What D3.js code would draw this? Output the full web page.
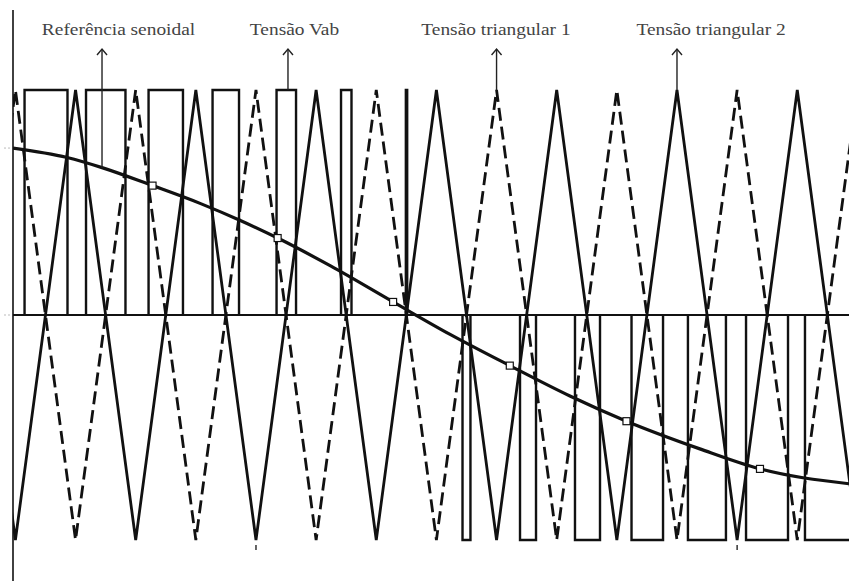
<!DOCTYPE html>
<html>
<head>
<meta charset="utf-8">
<script src="https://cdn.jsdelivr.net/npm/d3@7"></script>
<style>
  html, body { margin: 0; padding: 0; background: #fff; }
  svg { display: block; }
</style>
</head>
<body>
<script>
// x: time in carrier periods, y: normalised voltage (-1 .. 1)

// Carrier 1 (dashed) and carrier 2 (solid) triangle vertices
const carrier1Times  = [-0.5, 0, 0.5, 1, 1.5, 2, 2.5, 3, 3.5, 4, 4.5, 5, 5.5, 6, 6.5, 7, 7.5];
const carrier1Values = [-1, 1, -1, 1, -1, 1, -1, 1, -1, 1, -1, 1, -1, 1, -1, 1, -1];
const carrier2Times  = [-0.5, 0, 0.5, 1, 1.5, 2, 2.5, 3, 3.5, 4, 4.5, 5, 5.5, 6, 6.5, 7, 7.5];
const carrier2Values = [1, -1, 1, -1, 1, -1, 1, -1, 1, -1, 1, -1, 1, -1, 1, -1, 1];

// Sinusoidal reference samples
const refTimes  = [-0.02, 0.43, 0.72, 1.14, 1.54, 1.87, 2.18, 2.62, 3.14, 3.61, 4.11, 4.61, 5.08, 5.69, 6.19, 6.93];
const refValues = [0.742, 0.70, 0.655, 0.575, 0.495, 0.42, 0.342, 0.218, 0.058, -0.085, -0.225, -0.36, -0.472, -0.595, -0.684, -0.75];

// Sample markers on the reference
const markerTimes  = [1.14, 2.18, 3.14, 4.11, 5.08, 6.19];
const markerValues = [0.575, 0.342, 0.058, -0.225, -0.472, -0.684];

// Output voltage Vab: pulse start / end times and level
const pulseStarts = [0.076, 0.587, 1.107, 1.639, 2.171, 2.707, 3.246, 3.717, 4.195, 4.652, 5.122, 5.591, 6.074, 6.564];
const pulseEnds   = [0.433, 0.915, 1.393, 1.859, 2.333, 2.794, 3.257, 3.783, 4.328, 4.860, 5.384, 5.907, 6.423, 6.970];
const pulseLevels = [1, 1, 1, 1, 1, 1, 1, -1, -1, -1, -1, -1, -1, -1];

// Annotations
const labelTexts  = ["Referência senoidal", "Tensão Vab", "Tensão triangular 1", "Tensão triangular 2"];
const labelTimes  = [0.857, 2.32, 3.995, 5.783];
const arrowTimes  = [0.72, 2.266, 4.0, 5.5];
const arrowValues = [0.655, 1, 1, 1];

// Small marks below the lower carrier peaks
const tickTimes = [2, 6];

const W = 849, H = 581;
const svg = d3.select("body").append("svg")
  .attr("width", W).attr("height", H)
  .attr("viewBox", `0 0 ${W} ${H}`);

const x = d3.scaleLinear().domain([-0.02, 6.93]).range([13, 849]);
const y = d3.scaleLinear().domain([-1, 1]).range([540, 90]);

svg.append("defs").append("clipPath").attr("id", "plot-clip")
  .append("rect").attr("x", x(-0.02)).attr("y", 0)
  .attr("width", W - x(-0.02)).attr("height", H);

const plot = svg.append("g").attr("clip-path", "url(#plot-clip)");
const ink = "#111";

const line = d3.line().x(d => x(d[0])).y(d => y(d[1]));

// Vab pulses
const pulses = pulseStarts.map((s, i) => [[s, 0], [s, pulseLevels[i]], [pulseEnds[i], pulseLevels[i]], [pulseEnds[i], 0]]);
plot.append("g").selectAll("path").data(pulses).join("path")
  .attr("d", line)
  .attr("fill", "none").attr("stroke", ink).attr("stroke-width", 2.4);

// Carriers
plot.append("path")
  .attr("d", line(carrier2Times.map((t, i) => [t, carrier2Values[i]])))
  .attr("fill", "none").attr("stroke", ink).attr("stroke-width", 2.8);
plot.append("path")
  .attr("d", line(carrier1Times.map((t, i) => [t, carrier1Values[i]])))
  .attr("fill", "none").attr("stroke", ink).attr("stroke-width", 2.8)
  .attr("stroke-dasharray", "13,6");

// Zero line
svg.append("line")
  .attr("x1", x(-0.02)).attr("x2", W)
  .attr("y1", y(0)).attr("y2", y(0))
  .attr("stroke", ink).attr("stroke-width", 2);

// Reference
plot.append("path")
  .attr("d", d3.line().curve(d3.curveMonotoneX).x(d => x(d[0])).y(d => y(d[1]))(refTimes.map((t, i) => [t, refValues[i]])))
  .attr("fill", "none").attr("stroke", ink).attr("stroke-width", 3.2);

plot.append("g").selectAll("rect").data(markerTimes).join("rect")
  .attr("x", t => x(t) - 3.5)
  .attr("y", (t, i) => y(markerValues[i]) - 3.5)
  .attr("width", 7).attr("height", 7)
  .attr("fill", "#fff").attr("stroke", ink).attr("stroke-width", 1.2);

// Vertical axis
svg.append("line")
  .attr("x1", x(-0.02)).attr("x2", x(-0.02))
  .attr("y1", 10).attr("y2", H)
  .attr("stroke", ink).attr("stroke-width", 1.6);

// faint marks left of the axis
svg.append("g").selectAll("line").data([refValues[0], 0]).join("line")
  .attr("x1", 4).attr("x2", 11)
  .attr("y1", v => y(v)).attr("y2", v => y(v))
  .attr("stroke", "#bbb").attr("stroke-width", 1).attr("stroke-dasharray", "2,2");

svg.append("g").selectAll("line").data(tickTimes).join("line")
  .attr("x1", t => x(t)).attr("x2", t => x(t))
  .attr("y1", y(-1) + 5).attr("y2", y(-1) + 10)
  .attr("stroke", "#333").attr("stroke-width", 1.5);

// Annotation arrows
const arrowTop = 49;
const arrows = svg.append("g");
arrowTimes.forEach((t, i) => {
  const ax = x(t);
  arrows.append("line")
    .attr("x1", ax).attr("x2", ax)
    .attr("y1", arrowTop).attr("y2", y(arrowValues[i]))
    .attr("stroke", "#222").attr("stroke-width", 1.4);
  arrows.append("path")
    .attr("d", `M${ax - 5},${arrowTop + 6}L${ax},${arrowTop}L${ax + 5},${arrowTop + 6}`)
    .attr("fill", "none").attr("stroke", "#222").attr("stroke-width", 1.4);
});

// Labels
svg.append("g").selectAll("text").data(labelTexts).join("text")
  .attr("transform", (d, i) => `translate(${x(labelTimes[i])},35) scale(1.14,1)`)
  .attr("text-anchor", "middle")
  .attr("font-family", "'Liberation Serif', 'Times New Roman', serif")
  .attr("font-size", 17)
  .attr("fill", "#444")
  .text(d => d);
</script>
</body>
</html>
